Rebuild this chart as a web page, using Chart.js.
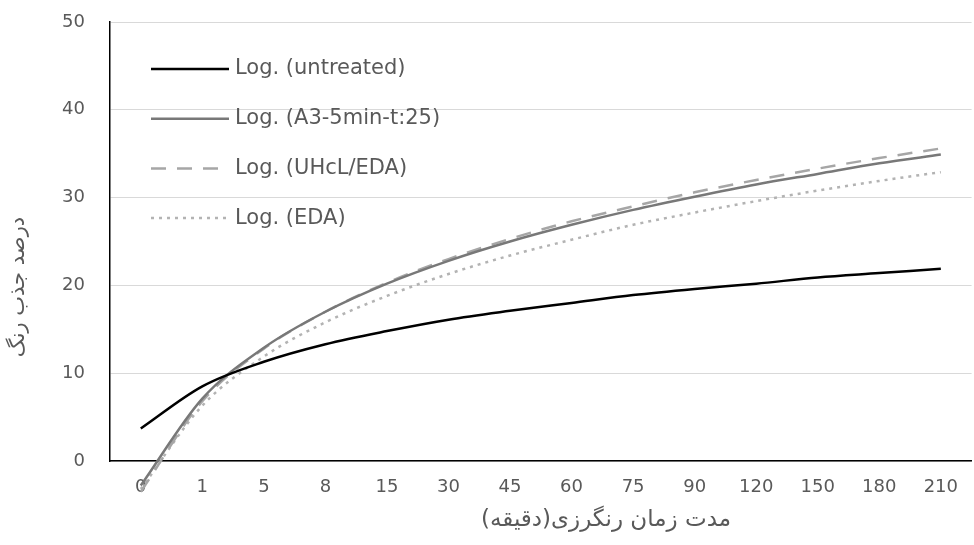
<!DOCTYPE html>
<html>
<head>
<meta charset="utf-8">
<script src="https://cdn.jsdelivr.net/npm/chart.js@4.4.1/dist/chart.umd.min.js"></script>
<style>
  html, body { margin: 0; padding: 0; background: #fff; }
  #chart { display: block; }
</style>
</head>
<body>
<canvas id="chart" width="974" height="545"></canvas>
<script>
// dyeing time (min) categories
const categories = ['0', '1', '5', '8', '15', '30', '45', '60', '75', '90', '120', '150', '180', '210'];

// log trendlines at each category
const untreated = [3.7, 8.5, 11.3, 13.3, 14.8, 16.1, 17.1, 18.0, 18.9, 19.6, 20.2, 20.9, 21.4, 21.9];
const a3 = [-2.8, 7.1, 12.9, 17.0, 20.2, 22.8, 25.0, 26.9, 28.6, 30.1, 31.5, 32.7, 33.9, 34.9];
const uhclEda = [-3.5, 6.8, 12.8, 17.0, 20.3, 23.0, 25.3, 27.3, 29.0, 30.6, 32.0, 33.3, 34.5, 35.6];
const eda = [-3.2, 6.3, 11.9, 15.8, 18.8, 21.3, 23.4, 25.2, 26.9, 28.3, 29.6, 30.8, 31.9, 32.9];

const seriesLabels = ['Log. (untreated)', 'Log. (A3-5min-t:25)', 'Log. (UHcL/EDA)', 'Log. (EDA)'];
const yTicks = [0, 10, 20, 30, 40, 50];

const xTitle = 'مدت زمان رنگرزی(دقیقه)';
const yTitle = 'درصد جذب رنگ';

const FONT = '"DejaVu Sans", sans-serif';
const TEXT = '#595959';

// legend inside the plot + axis titles placed like the original
const overlay = {
    id: 'overlay',
    afterDraw(chart) {
        const ctx = chart.ctx;
        const area = chart.chartArea;
        ctx.save();
        chart.data.datasets.forEach((ds, i) => {
            const y = area.top + 47 + i * 49.7;
            ctx.beginPath();
            ctx.strokeStyle = ds.borderColor;
            ctx.lineWidth = ds.borderWidth;
            ctx.setLineDash(ds.borderDash || []);
            ctx.moveTo(area.left + 41, y);
            ctx.lineTo(area.left + 119, y);
            ctx.stroke();
            ctx.setLineDash([]);
            ctx.fillStyle = TEXT;
            ctx.font = '21px ' + FONT;
            ctx.textAlign = 'left';
            ctx.textBaseline = 'middle';
            ctx.fillText(ds.label, area.left + 125, y);
        });

        ctx.fillStyle = TEXT;
        ctx.direction = 'rtl';
        ctx.textAlign = 'center';
        ctx.textBaseline = 'middle';
        ctx.font = '23px ' + FONT;
        ctx.fillText(xTitle, 606, 520);

        ctx.font = '21px ' + FONT;
        ctx.translate(19, 287);
        ctx.rotate(-Math.PI / 2);
        ctx.fillText(yTitle, 0, 0);
        ctx.restore();
    }
};

const lineStyle = {
    pointRadius: 0,
    pointHoverRadius: 0,
    cubicInterpolationMode: 'monotone',
    fill: false,
    clip: false
};

new Chart(document.getElementById('chart').getContext('2d'), {
    type: 'line',
    data: {
        labels: categories,
        datasets: [
            Object.assign({ label: seriesLabels[0], data: untreated, borderColor: '#000000', borderWidth: 2.5 }, lineStyle),
            Object.assign({ label: seriesLabels[1], data: a3, borderColor: '#787878', borderWidth: 2.5 }, lineStyle),
            Object.assign({ label: seriesLabels[2], data: uhclEda, borderColor: '#a6a6a6', borderWidth: 2.5, borderDash: [15, 11] }, lineStyle),
            Object.assign({ label: seriesLabels[3], data: eda, borderColor: '#b3b3b3', borderWidth: 2.5, borderDash: [3, 5] }, lineStyle)
        ]
    },
    options: {
        responsive: false,
        animation: false,
        layout: { padding: { top: 22, right: 0, left: 0, bottom: 0 } },
        scales: {
            x: {
                offset: true,
                grid: { display: false, drawTicks: false },
                border: { display: true, color: '#000000', width: 1.5 },
                ticks: { color: TEXT, font: { family: FONT, size: 18 }, padding: 16, maxRotation: 0, autoSkip: false },
                afterFit: scale => { scale.height = 84; }
            },
            y: {
                min: yTicks[0],
                max: yTicks[yTicks.length - 1],
                afterBuildTicks: scale => { scale.ticks = yTicks.map(v => ({ value: v })); },
                grid: { color: '#d9d9d9', lineWidth: 1, drawTicks: false },
                border: { display: true, color: '#000000', width: 1.5 },
                ticks: { color: TEXT, font: { family: FONT, size: 18 }, padding: 25 },
                afterFit: scale => {
                    scale.width = 110;
                    scale.paddingTop = 0;
                    scale.paddingBottom = 0;
                }
            }
        },
        plugins: {
            legend: { display: false },
            title: { display: false },
            tooltip: { enabled: false }
        }
    },
    plugins: [overlay]
});
</script>
</body>
</html>
